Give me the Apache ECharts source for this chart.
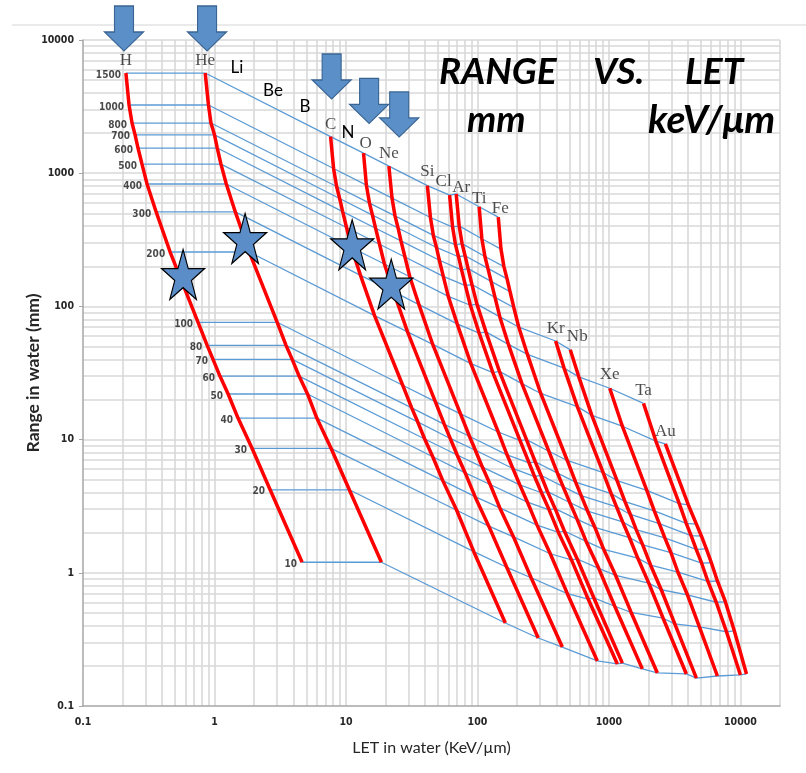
<!DOCTYPE html>
<html>
<head>
<meta charset="utf-8">
<script src="https://cdn.jsdelivr.net/npm/echarts@6/dist/echarts.min.js"></script>
<style>html,body{margin:0;padding:0;background:#fff}#c{width:806px;height:773px}</style>
</head>
<body>
<div id="c"></div>
<script>
// ---- data ----
const energies = [1500,1000,800,700,600,500,400,300,200,100,80,70,60,50,40,30,20,10]; // MeV/u
const ionNames = ['H','He','C','O','Ne','Si','Cl','Ar','Ti','Fe','Kr','Nb','Xe','Ta','Au'];
const xTickLabels = ['0.1','1','10','100','1000','10000'];
const yTickLabels = ['0.1','1','10','100','1000','10000'];

const letH  = [0.212,0.224,0.236,0.249,0.262,0.281,0.307,0.36,0.46,0.75,0.88,0.975,1.10,1.27,1.51,1.93,2.65,4.64];
const rangeH = [5650,3250,2380,1940,1545,1170,830,512,256,76,51,40,30,22,14.5,8.6,4.2,1.2];
const letHe = [0.85,0.90,0.94,1.00,1.05,1.12,1.23,1.44,1.84,3.0,3.5,3.9,4.4,5.1,6.0,7.7,10.6,18.6];
const rangeHe = [5650,3250,2380,1940,1545,1170,830,512,256,76,51,40,30,22,14.5,8.6,4.2,1.2];
const letC  = [7.64,8.05,8.49,8.95,9.44,10.1,11.0,12.9,16.5,27.0,31.6,35.1,39.7,45.7,54.5,69.5,93.8,163];
const rangeC = [1884,1084,794,646,515,391,277,171,85.3,25.6,17.3,13.6,10.1,7.43,4.92,2.95,1.44,0.42];
const letO  = [13.6,14.3,15.1,15.9,16.8,18.0,19.6,23.0,29.4,47.8,56.0,62.1,70.1,80.7,95.9,122,167,290];
const rangeO = [1413,813,596,484,386,293,208,129,64.4,19.3,13.0,10.2,7.66,5.62,3.73,2.24,1.10,0.324];
const letNe = [21.2,22.4,23.6,24.9,26.2,28.1,30.6,35.9,45.7,74.3,86.9,96.4,109,125,148,188,256,442];
const rangeNe = [1130,650,478,388,310,235,167,103,51.8,15.6,10.6,8.32,6.22,4.60,3.07,1.86,0.918,0.277];
const letSi = [41.6,43.9,46.2,48.8,51.3,55.0,60.0,70.1,89.1,144,168,186,210,240,284,358,483,816];
const rangeSi = [807,465,341,277,222,168,119,74.0,37.2,11.4,7.69,6.07,4.57,3.39,2.28,1.39,0.697,0.218];
const letCl = [61.4,64.7,68.1,71.8,75.7,81.1,88.3,103,131,211,247,272,307,351,413,519,695,1159];
const rangeCl = [684,394,290,236,188,143,102,63.1,31.8,9.82,6.68,5.28,3.99,2.97,2.01,1.25,0.635,0.207];
const letAr = [68.9,72.6,76.4,80.5,84.9,90.8,99.1,116,147,236,275,304,341,390,458,574,767,1265];
const rangeAr = [698,402,296,240,192,146,104,64.4,32.5,10.0,6.82,5.40,4.07,3.03,2.06,1.27,0.649,0.210];
const letTi = [103,108,114,120,127,136,148,172,218,349,406,448,504,573,671,836,1107,1795];
const rangeTi = [560,322,237,193,154,117,83.4,51.9,26.3,8.18,5.60,4.44,3.37,2.52,1.72,1.08,0.561,0.190];
const letFe = [144,151,159,168,177,189,206,240,303,482,558,615,689,782,912,1125,1476,2335];
const rangeFe = [468,269,199,161,129,98.2,70.0,43.6,22.2,6.97,4.79,3.80,2.90,2.19,1.50,0.955,0.504,0.177];
const letKr = [null,null,null,null,null,null,393,456,575,904,1040,1143,1271,1432,1656,2009,2582,3880];
const rangeKr = [null,null,null,null,null,null,55.0,34.4,17.7,5.66,3.93,3.13,2.41,1.84,1.29,0.836,0.456,0.174];
const letNb = [null,null,null,null,null,null,508,590,741,1153,1324,1455,1611,1807,2075,2500,3170,4625];
const rangeNb = [null,null,null,null,null,null,47.2,29.6,15.2,4.92,3.42,2.74,2.11,1.62,1.14,0.746,0.413,0.162];
const letXe = [null,null,null,null,null,null,null,1014,1265,1941,2213,2415,2661,2958,3350,3954,4875,6680];
const rangeXe = [null,null,null,null,null,null,null,24.3,12.6,4.16,2.92,2.34,1.83,1.42,1.01,0.684,0.393,0.168];
const letTa = [null,null,null,null,null,null,null,1832,2275,3428,3873,4217,4613,5070,5662,6546,7834,10000];
const rangeTa = [null,null,null,null,null,null,null,18.7,9.75,3.31,2.35,1.90,1.50,1.18,0.861,0.601,0.361,0.171];
const letAu = [null,null,null,null,null,null,null,null,2687,4018,4627,5047,5508,6012,6683,7690,8995,11120];
const rangeAu = [null,null,null,null,null,null,null,null,9.27,3.23,2.32,1.89,1.51,1.19,0.868,0.604,0.366,0.174];

// annotation markers (data units)
const starPoints = [[0.577,173.6],[1.71,323.5],[11.15,290.5],[22.1,147]];
const arrowPoints = [[0.205,12200],[0.878,12200],[7.78,5320],[15.0,3485],[25.4,2762]];

// ---- build ----
const ionLET = [letH,letHe,letC,letO,letNe,letSi,letCl,letAr,letTi,letFe,letKr,letNb,letXe,letTa,letAu];
const ionRange = [rangeH,rangeHe,rangeC,rangeO,rangeNe,rangeSi,rangeCl,rangeAr,rangeTi,rangeFe,rangeKr,rangeNb,rangeXe,rangeTa,rangeAu];
const labelOffsets = {Cl:[-6,0], Ar:[5,7], Nb:[7,0], Ti:[0,4], Fe:[2,4], O:[2,3], Si:[0,-2]};
const underlined = ['Cl','Ar','Nb','Xe'];

const narrow = "'Liberation Sans Narrow','DejaVu Sans Condensed','Roboto Condensed',sans-serif";
const series = [];

// gridlines (major + minor) via markLine on an empty series
const xGrid = [], yGrid = [];
for (let d = 0.1; d < 20001; d *= 10) {
  for (let k = 1; k <= 9; k++) {
    const v = +(k * d).toPrecision(3);
    if (v > 0.1 && v <= 20000) xGrid.push({xAxis: v});
    if (v > 0.1 && v <= 10000) yGrid.push({yAxis: v});
  }
}
series.push({
  type: 'line', data: [], z: 1, silent: true,
  markLine: {
    z: 1, silent: true, symbol: 'none', animation: false,
    label: {show: false},
    lineStyle: {color: '#d9d9d9', width: 1.6, type: 'solid'},
    data: xGrid.concat(yGrid)
  }
});

// iso-energy blue lines
energies.forEach((e, j) => {
  const data = [];
  ionNames.forEach((n, i) => {
    if (ionLET[i][j] != null) data.push([ionLET[i][j], ionRange[i][j]]);
  });
  series.push({
    type: 'line', name: e + ' MeV/u', data, z: 11, showSymbol: false, symbol: 'none',
    lineStyle: {color: '#5B9BD5', width: 1.3}, silent: true, animation: false
  });
});

// ion red curves
ionNames.forEach((n, i) => {
  const data = [];
  energies.forEach((e, j) => {
    if (ionLET[i][j] != null) data.push([ionLET[i][j], ionRange[i][j]]);
  });
  series.push({
    type: 'line', name: n, data, z: 12, showSymbol: false, symbol: 'none',
    lineStyle: {color: '#FF0000', width: 3.5}, silent: true, animation: false
  });
});

// energy labels along H curve
series.push({
  type: 'scatter', z: 13, symbolSize: 0, silent: true, animation: false,
  data: energies.map((e, j) => [letH[j], rangeH[j]]),
  label: {
    show: true, position: 'left', distance: 5, offset: [0, 2],
    formatter: p => String(energies[p.dataIndex]),
    fontFamily: narrow, fontWeight: 'bold', fontSize: 10, color: '#1a1a1a'
  }
});

// element labels at top of each curve
series.push({
  type: 'scatter', z: 13, symbolSize: 0, silent: true, animation: false,
  data: ionNames.map((n, i) => {
    let j = 0; while (ionLET[i][j] == null) j++;
    const lab = {offset: labelOffsets[n] || [0, 0]};
    if (underlined.indexOf(n) >= 0) {
      lab.formatter = '{u|{b}}';
    }
    return {name: n, value: [ionLET[i][j], ionRange[i][j]], label: lab};
  }),
  label: {
    show: true, position: 'top', distance: 4, formatter: '{b}',
    fontFamily: "'Liberation Serif','DejaVu Serif',serif", fontSize: 17, color: '#1f1f1f',
    rich: {u: {fontFamily: "'Liberation Serif','DejaVu Serif',serif", fontSize: 17, color: '#1f1f1f',
               borderColor: 'transparent', padding: [0, 0, 1, 0]}}
  }
});

// stars
series.push({
  type: 'scatter', z: 14, silent: true, animation: false, clip: false,
  symbol: 'path://M50,0 L61.8,35.1 L98.9,35.1 L68.9,56.8 L80.3,91.9 L50,70.2 L19.7,91.9 L31.1,56.8 L1.1,35.1 L38.2,35.1 Z',
  symbolSize: [43, 50],
  itemStyle: {color: '#5B8DC9', borderColor: '#000', borderWidth: 1.2, opacity: 1},
  data: starPoints
});

// arrows
series.push({
  type: 'scatter', z: 14, silent: true, animation: false, clip: false,
  symbol: 'path://M10,0 L29,0 L29,26 L39,26 L19.5,45 L0,26 L10,26 Z',
  symbolSize: [39, 45],
  itemStyle: {color: '#5B8FC8', borderColor: '#3A6593', borderWidth: 1.2, opacity: 1},
  data: arrowPoints
});

function decadeLabel(labels) {
  return function (v) {
    const l = Math.log10(v);
    const r = Math.round(l);
    if (Math.abs(l - r) > 1e-6) return '';
    return labels[r + 1] || '';
  };
}

const titleFont = "italic bold 37px Lato, 'Open Sans', sans-serif";
const sansLbl = "17px Lato, 'Open Sans', sans-serif";
function txt(text, x, y, font, align) {
  return {type: 'text', x, y, silent: true, z: 20,
    style: {text, font, fill: '#000', textAlign: align || 'center', textVerticalAlign: 'middle',
            align: align || 'center', verticalAlign: 'middle'}};
}

const chart = echarts.init(document.getElementById('c'), null, {renderer: 'canvas'});
chart.setOption({
  animation: false,
  backgroundColor: '#fff',
  grid: {left: 83, top: 40, right: 26, bottom: 67, containLabel: false},
  xAxis: {
    type: 'log', logBase: 10, min: 0.1, max: 20000, z: 5,
    name: 'LET in water (KeV/µm)', nameLocation: 'middle', nameGap: 34, nameMoveOverlap: false,
    nameTextStyle: {fontFamily: "Lato, 'Open Sans', sans-serif", fontSize: 16, color: '#262626'},
    axisLine: {show: true, lineStyle: {color: '#a6a6a6', width: 1.5}},
    axisTick: {show: false},
    axisLabel: {formatter: decadeLabel(xTickLabels), fontFamily: narrow, fontWeight: 'bold', fontSize: 10.5, color: '#262626', margin: 11},
    splitLine: {show: false}, minorTick: {show: false}, minorSplitLine: {show: false}
  },
  yAxis: {
    type: 'log', logBase: 10, min: 0.1, max: 10000, z: 5,
    name: 'Range in water (mm)', nameLocation: 'middle', nameGap: 41, nameMoveOverlap: false,
    nameTextStyle: {fontFamily: "Lato, 'Open Sans', sans-serif", fontWeight: 'bold', fontSize: 17.5, color: '#262626'},
    axisLine: {show: true, lineStyle: {color: '#a6a6a6', width: 1.5}},
    axisTick: {show: true, length: 4, lineStyle: {color: '#a6a6a6'}},
    axisLabel: {formatter: decadeLabel(yTickLabels), fontFamily: narrow, fontWeight: 'bold', fontSize: 10.5, color: '#262626', margin: 9},
    splitLine: {show: false}, minorTick: {show: false}, minorSplitLine: {show: false}
  },
  graphic: [
    {type: 'line', silent: true, z: 0, shape: {x1: 12, y1: 25, x2: 806, y2: 25}, style: {stroke: '#e3e3e3', lineWidth: 1.5}},
    txt('RANGE', 439, 72, titleFont, 'left'),
    txt('VS.', 593, 72, titleFont, 'left'),
    txt('LET', 685, 72, titleFont, 'left'),
    txt('mm', 467, 120, titleFont, 'left'),
    txt('keV/μm', 648, 120, "italic bold 39px Lato, 'Open Sans', sans-serif", 'left'),
    txt('Li', 237, 68, sansLbl),
    txt('Be', 273, 91, sansLbl),
    txt('B', 305, 107, sansLbl),
    txt('N', 348, 133, sansLbl)
  ],
  series
});
</script>
</body>
</html>
